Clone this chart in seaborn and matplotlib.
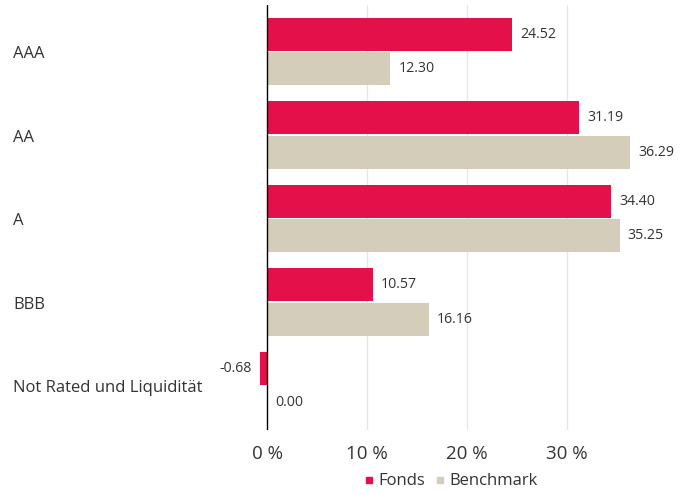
import pandas as pd
import matplotlib.pyplot as plt
import seaborn as sns
from matplotlib.lines import Line2D
from matplotlib.transforms import blended_transform_factory

categories = ['AAA', 'AA', 'A', 'BBB', 'Not Rated und Liquidität']
fonds = [24.52, 31.19, 34.40, 10.57, -0.68]
benchmark = [12.30, 36.29, 35.25, 16.16, 0.00]
series_names = ['Fonds', 'Benchmark']
colors = ['#E3104A', '#D4CDBA']
xticks = [0, 10, 20, 30]

df = pd.DataFrame({
    'Rating': categories * 2,
    'Serie': [series_names[0]] * len(categories) + [series_names[1]] * len(categories),
    'Wert': fonds + benchmark,
})

sns.set_theme(style='white')
plt.rcParams['font.family'] = ['Open Sans', 'DejaVu Sans']

fig = plt.figure(figsize=(6.91, 4.94), dpi=100)
ax = fig.add_axes([255 / 691, 0.13, 402 / 691, 0.86])

sns.barplot(
    data=df, y='Rating', x='Wert', hue='Serie', order=categories,
    hue_order=series_names, palette=colors, orient='h',
    width=0.826, gap=0.045, legend=False, ax=ax, saturation=1, linewidth=0,
)

for cont in ax.containers:
    ax.bar_label(cont, fmt='%.2f', padding=6, fontsize=10.2, color='#333333')

ax.set_xlim(-1.2, 39)
ax.set_ylim(4.53, -0.56)
ax.set_xticks(xticks)
ax.set_xticklabels([f'{t} %' for t in xticks], fontsize=13.5, color='#333333')
ax.tick_params(axis='x', length=0, pad=11)
ax.set_yticks([])
ax.set_xlabel('')
ax.set_ylabel('')
for s in ax.spines.values():
    s.set_visible(False)

for t in xticks[1:]:
    ax.axvline(t, color='#E6E6E6', lw=1, zorder=0)
ax.axvline(0, color='black', lw=1, zorder=3)

# category labels, left aligned at the figure edge
trans = blended_transform_factory(fig.transFigure, ax.transData)
for i, cat in enumerate(categories):
    ax.text(13 / 691, i + 0.03, cat, transform=trans, ha='left', va='center',
            fontsize=12, color='#333333')

handles = [Line2D([], [], marker='s', ls='', color=c, markersize=4) for c in colors]
fig.legend(handles, series_names, loc='lower center', bbox_to_anchor=(0.652, 0.006),
           ncol=2, frameon=False, fontsize=12, handlelength=0.7, handletextpad=0.25,
           columnspacing=0.5, labelcolor='#333333', borderpad=0.1, borderaxespad=0)

fig.savefig('out.png', dpi=100)
